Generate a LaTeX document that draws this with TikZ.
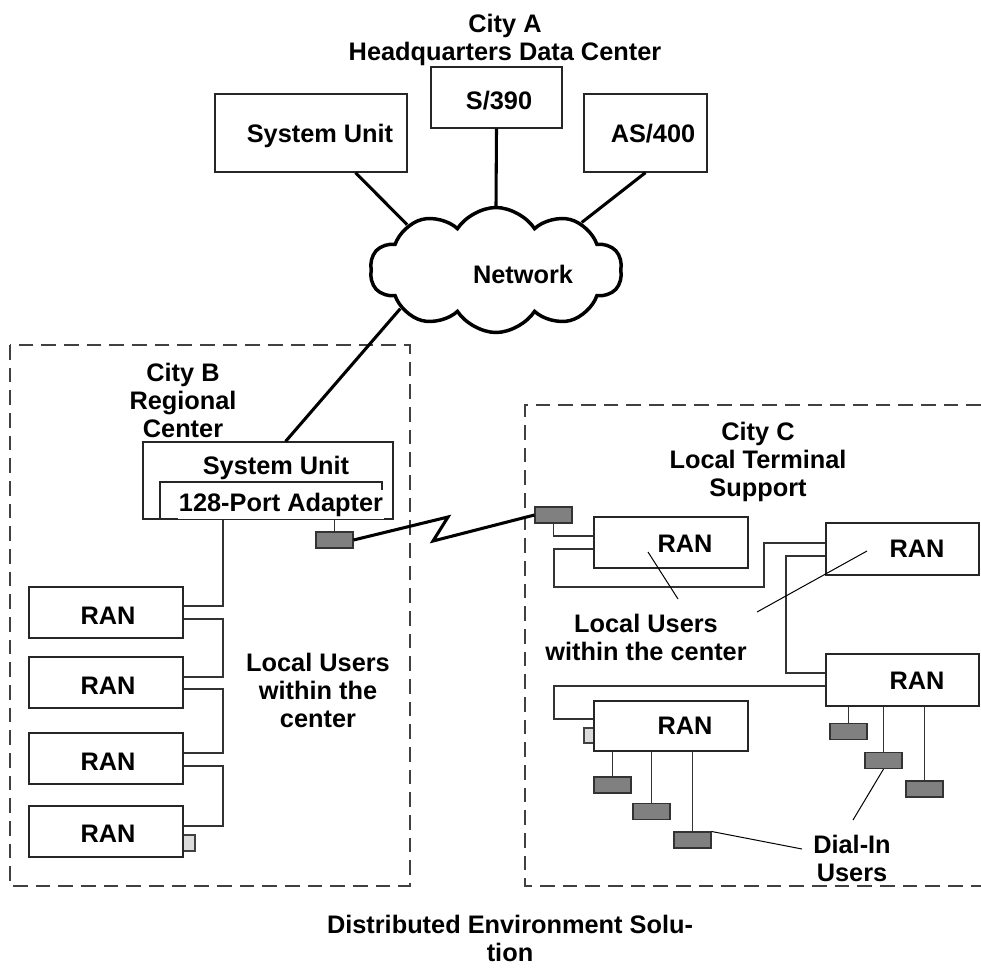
\documentclass[tikz,border=0pt]{standalone}
\usepackage{fontspec}
\setmainfont{Liberation Sans}
\usetikzlibrary{shapes.symbols,calc}

% box given by its pixel corners: [style]{x1}{y1}{x2}{y2}{name}
\newcommand\pxbox[6][]{%
  \node[boxst,#1,minimum width={(#4-#2)*0.75pt},minimum height={(#5-#3)*0.75pt}]
    (#6) at ({(#2+#4)/2},{(#3+#5)/2}) {};}

\begin{document}
\begin{tikzpicture}[x=0.75pt,y=-0.75pt,
  txt/.style={font=\bfseries\fontsize{19}{21}\selectfont, align=center, inner sep=0pt},
  boxst/.style={draw=black!85, line width=0.9pt, fill=white, inner sep=0pt},
  modem/.style={draw=black!80, line width=0.8pt, fill=black!50, inner sep=0pt,
    minimum width={37*0.75pt}, minimum height={16*0.75pt}},
  stub/.style={draw=black!75, line width=0.8pt, fill=black!14},
  wire/.style={draw=black!80, line width=0.8pt},
  trunk/.style={draw=black, line width=2.3pt},
  pointer/.style={draw=black, line width=0.75pt},
  region/.style={draw=black!75, line width=0.8pt, dash pattern=on 11pt off 6pt}
]
\useasboundingbox[fill=white] (0,0) rectangle (981,967);

% ---- City A: headquarters ----
\node[txt] (cityA) at (505,40) {City A\\Headquarters Data Center};
\pxbox{215}{94}{407}{172}{suA}
\pxbox{431}{67}{562}{128}{s390}
\pxbox{584}{94}{707}{172}{as400}
\node[txt,anchor=base] (tsuA) at (320,142) {System Unit};
\node[txt,anchor=base] (ts390) at (499,109) {S/390};
\node[txt,anchor=base] (tas400) at (653,142) {AS/400};

% ---- network cloud ----
\node[cloud, cloud puffs=10, cloud puff arc=115, aspect=2, draw=black, line width=2.6pt,
      fill=white, minimum width={252*0.75pt}, minimum height={125*0.75pt}, inner sep=0pt]
      (net) at (496,270) {};
\node[txt,anchor=base] (tnet) at (523,283) {Network};

\draw[trunk] ($(suA.south west)!0.73!(suA.south east)$) -- (net.153);
\draw[trunk] (s390.south) -- (net.north);
\draw[trunk] (as400.south) -- (net.29);

% ---- City B: regional center ----
\draw[region] (10,345) rectangle (410,886);
\node[txt] (cityB) at (183,400) {City B\\Regional\\Center};

\pxbox{143}{442}{393}{519}{suB}
\pxbox{160}{482}{382}{519}{ad}
\node[txt,anchor=base] (tsuB) at (276,474) {System Unit};
\node[txt,anchor=base,fill=white,inner xsep=1pt,inner ysep=2pt] (tad) at (281,511) {128-Port Adapter};
\draw[trunk] (net.202) -- ($(suB.north west)!0.57!(suB.north east)$);

\node[modem] (mB) at (334.5,540) {};
\draw[wire] (mB.north) -- (mB.north |- ad.south);

\pxbox{29}{587}{183}{638}{B1}
\pxbox{29}{657}{183}{708}{B2}
\pxbox{29}{733}{183}{784}{B3}
\pxbox[stub]{183}{835}{195}{851}{sB}
\pxbox{29}{806}{183}{857}{B4}
\foreach \b/\y in {B1/615,B2/685,B3/761,B4/833}
  \node[txt,anchor=base] (t\b) at (108,\y+9) {RAN};

\draw[wire] (ad.south -| 223,0) |- (B1.east |- 0,606);
\draw[wire] (B1.east |- 0,619) -| (223,677) -- (B2.east |- 0,677);
\draw[wire] (B2.east |- 0,689) -| (223,753) -- (B3.east |- 0,753);
\draw[wire] (B3.east |- 0,766) -| (223,826) -- (B4.east |- 0,826);

\node[txt] (luB) at (318,690) {Local Users\\within the\\center};

% ---- link between the centers ----
\draw[region] (981,405) -- (525,405) -- (525,886) -- (981,886);
\node[modem] (mC) at (553.5,515) {};
\draw[trunk] (mB.east) -- (448,517) -- (433,541) -- (mC.west);

% ---- City C: local terminal support ----
\node[txt] (cityC) at (758,462) {City C\\Local Terminal\\Support};

\pxbox{594}{517}{748}{568}{R1}
\pxbox{826}{523}{979}{575}{R2}
\pxbox{826}{654}{979}{706}{R3}
\pxbox[stub]{584}{728}{594}{743}{sC}
\pxbox{594}{701}{748}{751}{R4}
\node[txt,anchor=base] (tR1) at (685,552) {RAN};
\node[txt,anchor=base] (tR2) at (917,557) {RAN};
\node[txt,anchor=base] (tR3) at (917,689) {RAN};
\node[txt,anchor=base] (tR4) at (685,734) {RAN};

\draw[wire] (mC.south) |- (R1.west |- 0,536);
\draw[wire] (R1.west |- 0,549) -| (554,587) -| (764,543) -- (R2.west |- 0,543);
\draw[wire] (R2.west |- 0,556) -| (786,673) -- (R3.west |- 0,673);
\draw[wire] (R3.west |- 0,686) -| (554,719) -- (R4.west |- 0,719);

\node[txt] (luC) at (646,637) {Local Users\\within the center};
\coordinate (pR1) at (648,552);
\coordinate (pR2) at (867,551);
\draw[pointer] (pR1) -- (678,599);
\draw[pointer] (pR2) -- (757,612);

% dial-in modems
\node[modem] (d1) at (848.5,731.5) {};
\node[modem] (d2) at (883.5,760.5) {};
\node[modem] (d3) at (924.5,789) {};
\node[modem] (d4) at (612.5,785) {};
\node[modem] (d5) at (651.5,811.5) {};
\node[modem] (d6) at (692.5,840) {};
\foreach \d in {d1,d2,d3} \draw[wire] (\d.north) -- (\d.north |- R3.south);
\foreach \d in {d4,d5,d6} \draw[wire] (\d.north) -- (\d.north |- R4.south);

\node[txt] (dial) at (852,858) {Dial-In\\Users};
\draw[pointer] (d2.south) -- (853,820);
\draw[pointer] (d6.north east) -- (802,849);

% ---- caption ----
\node[txt] (caption) at (510,938) {Distributed Environment Solu-\\tion};
\end{tikzpicture}
\end{document}
